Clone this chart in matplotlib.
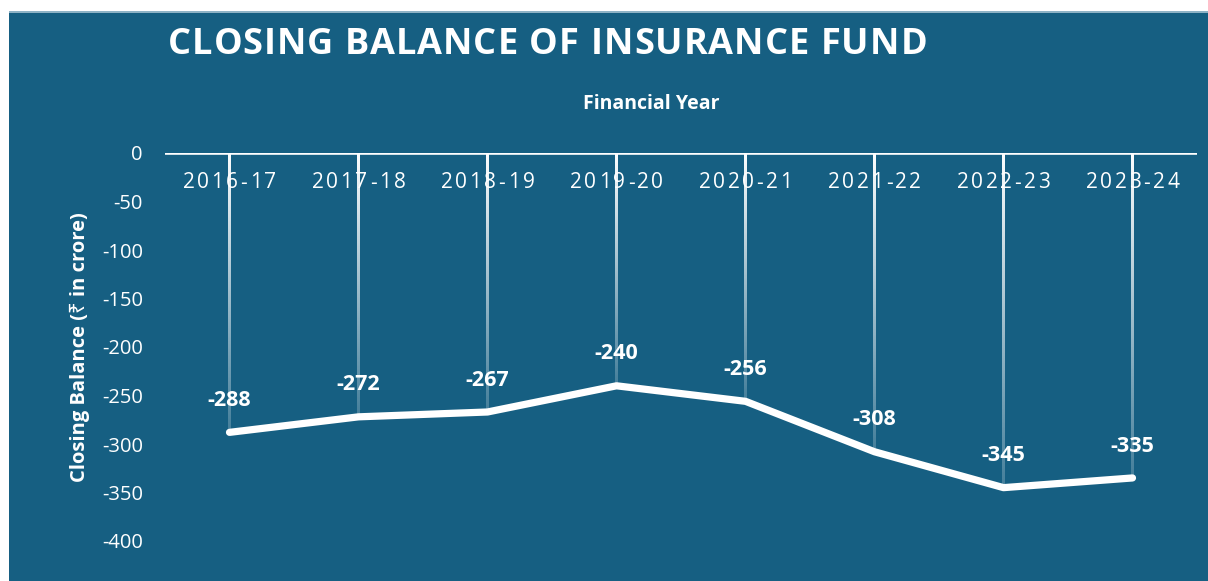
import numpy as np
import matplotlib
matplotlib.use("Agg")
import matplotlib.pyplot as plt
from matplotlib.patches import Rectangle

# Closing balance of the insurance fund, Rs crore
years = ["2016-17", "2017-18", "2018-19", "2019-20",
         "2020-21", "2021-22", "2022-23", "2023-24"]
balance = [-288, -272, -267, -240, -256, -308, -345, -335]
y_ticks = [0, -50, -100, -150, -200, -250, -300, -350, -400]

W, H = 1208, 581
BG = "#165F82"
FONT = ["Open Sans", "DejaVu Sans"]

fig = plt.figure(figsize=(W / 100, H / 100), dpi=100, facecolor="white")
fig.patches.append(Rectangle((9 / W, 0), 1 - 9 / W, 1 - 12 / H,
                             transform=fig.transFigure, facecolor=BG,
                             edgecolor="none", zorder=-10))
fig.patches.append(Rectangle((9 / W, 1 - 13 / H), 1 - 9 / W, 1.5 / H,
                             transform=fig.transFigure, facecolor="#8fb3c6",
                             edgecolor="none", zorder=-10))

renderer = fig.canvas.get_renderer()


def text_width(s, **kw):
    t = fig.text(0, 0, s, **kw)
    w = t.get_window_extent(renderer).width
    t.remove()
    return w


def spaced_text(xp, yp, s, spacing=0.0, target=None, ha="left", **kw):
    """Draw s one glyph at a time (pixel coords, origin top-left) with extra tracking."""
    ref = text_width("H", **kw)
    offs = [text_width(s[:i] + "H", **kw) - ref for i in range(len(s))]
    natural = text_width(s, **kw)
    if target is not None and len(s) > 1:
        spacing = (target - natural) / (len(s) - 1)
    total = natural + spacing * (len(s) - 1)
    x0 = xp - total / 2 if ha == "center" else xp
    for i, ch in enumerate(s):
        if ch == " ":
            continue
        fig.text((x0 + offs[i] + i * spacing) / W, 1 - yp / H, ch,
                 ha="left", va="center", **kw)


ax = fig.add_axes([165 / W, 1 - 541 / H, (1197 - 165) / W, (541 - 153) / H])
ax.set_facecolor("none")
ax.set_xlim(-0.5, len(years) - 0.5)
ax.set_ylim(-400, 0)
for sp in ax.spines.values():
    sp.set_visible(False)
ax.set_xticks([])
ax.set_yticks(y_ticks)
ax.set_yticklabels([str(v) for v in y_ticks], family=FONT, fontsize=14.5,
                   color="white")
ax.tick_params(axis="y", length=0, pad=16)

x = np.arange(len(years))

# horizontal zero axis
ax.axhline(0, color="white", lw=2.6, zorder=3, solid_capstyle="butt")

# drop lines from the zero axis to each point, fading downward
px_per_cat = ax.transData.transform((1, 0))[0] - ax.transData.transform((0, 0))[0]
half_w = 1.2 / px_per_cat
grad = np.ones((200, 1, 4))
grad[:, 0, 3] = np.linspace(1.0, 0.2, 200)
for xi, yi in zip(x, balance):
    ax.imshow(grad, extent=(xi - half_w, xi + half_w, yi, 0), origin="upper",
              aspect="auto", interpolation="bilinear", zorder=2)
ax.set_xlim(-0.5, len(years) - 0.5)
ax.set_ylim(-400, 0)

ax.plot(x, balance, color="white", lw=5.2, solid_capstyle="round",
        solid_joinstyle="round", zorder=4)

for xi, yi in zip(x, balance):
    ax.annotate(str(yi), (xi, yi), xytext=(0, 23), textcoords="offset points",
                ha="center", va="center", color="white", fontsize=15.5,
                fontweight="bold", family=FONT, zorder=5)

# category labels with wide tracking
for xi, lab in zip(x, years):
    xp = ax.transData.transform((xi, 0))[0]
    spaced_text(xp, 183, lab, spacing=2.6, ha="center", family=FONT,
                fontsize=15, color="white")

spaced_text(168, 45, "CLOSING BALANCE OF INSURANCE FUND", target=759,
            family=FONT, fontsize=26, fontweight="bold", color="white")

fig.text(651 / W, 1 - 104 / H, "Financial Year", ha="center", va="center",
         family=FONT, fontsize=14, fontweight="bold", color="white")

fig.text(80 / W, 1 - 347 / H, "Closing Balance (\u20b9 in crore)",
         ha="center", va="center", rotation=90,
         family=["Open Sans", "Noto Sans", "DejaVu Sans"],
         fontsize=14.5, fontweight="bold", color="white")

fig.savefig("out.png", dpi=100, facecolor="white")
